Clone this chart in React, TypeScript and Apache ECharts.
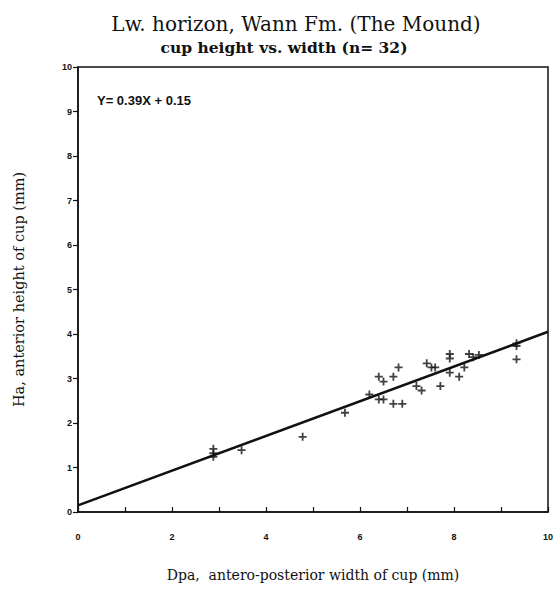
import React, { useEffect, useRef } from "react";
import * as echarts from "echarts";

// Dpa (antero-posterior width of cup, mm)
const widths = [
  2.88, 2.88, 2.88, 3.48, 4.78, 5.68, 6.2, 6.4, 6.5, 6.4, 6.5, 6.71, 6.82, 6.71,
  6.9, 7.2, 7.31, 7.42, 7.52, 7.6, 7.71, 7.91, 7.91, 7.91, 8.11, 8.22, 8.32, 8.41,
  8.53, 9.33, 9.33, 9.33,
];
// Ha (anterior height of cup, mm)
const heights = [
  1.42, 1.32, 1.24, 1.39, 1.69, 2.23, 2.64, 3.04, 2.93, 2.53, 2.53, 3.04, 3.25, 2.43,
  2.43, 2.83, 2.73, 3.34, 3.25, 3.25, 2.83, 3.55, 3.45, 3.13, 3.04, 3.25, 3.55, 3.48,
  3.53, 3.79, 3.73, 3.43,
];
// regression Y = slope * X + intercept
const slope = 0.39;
const intercept = 0.15;
const fitRange = [0, 10];
const axisTicks = { min: 0, max: 10, step: 1 };

const titleText = "Lw. horizon, Wann Fm. (The Mound)";
const subtitleText = "cup height vs. width (n= 32)";
const equationText = "Y= 0.39X + 0.15";
const xName = "Dpa,  antero-posterior width of cup (mm)";
const yName = "Ha, anterior height of cup (mm)";

const plusSymbol =
  "path://M-0.9,-4 L0.9,-4 L0.9,-0.9 L4,-0.9 L4,0.9 L0.9,0.9 L0.9,4 L-0.9,4 L-0.9,0.9 L-4,0.9 L-4,-0.9 L-0.9,-0.9 Z";

const serif = "'DejaVu Serif', 'Liberation Serif', serif";
const sans = "'Liberation Sans', Arial, sans-serif";

export default function App() {
  const ref = useRef<HTMLDivElement>(null);

  useEffect(() => {
    if (!ref.current) return;
    const chart = echarts.init(ref.current, undefined, { renderer: "svg" });
    const points = widths.map((w, i) => [w, heights[i]]);
    const fitLine = fitRange.map((x) => [x, slope * x + intercept]);

    chart.setOption({
      animation: false,
      backgroundColor: "#ffffff",
      grid: {
        left: 78,
        right: 9,
        top: 67,
        bottom: 78,
        show: true,
        borderColor: "#111",
        borderWidth: 1.5,
      },
      graphic: [
        {
          type: "text",
          x: 296,
          y: 24,
          style: {
            text: titleText,
            font: `20px ${serif}`,
            fill: "#111",
            align: "center",
            verticalAlign: "middle",
          },
        },
        {
          type: "text",
          x: 284,
          y: 47,
          style: {
            text: subtitleText,
            font: `bold 15.5px ${serif}`,
            fill: "#111",
            align: "center",
            verticalAlign: "middle",
          },
        },
        {
          type: "text",
          left: 97,
          top: 94,
          style: { text: equationText, font: `bold 13px ${sans}`, fill: "#111" },
        },
      ],
      xAxis: {
        type: "value",
        min: axisTicks.min,
        max: axisTicks.max,
        interval: axisTicks.step,
        name: xName,
        nameLocation: "middle",
        nameGap: 56,
        nameTextStyle: { fontFamily: serif, fontSize: 14, color: "#111" },
        axisLine: { lineStyle: { color: "#111", width: 1.5 } },
        axisTick: { inside: true, length: 5, lineStyle: { color: "#111", width: 1.2 } },
        axisLabel: {
          margin: 20,
          fontFamily: sans,
          fontWeight: "bold",
          fontSize: 9,
          color: "#111",
          formatter: (v: number) => (v % 2 === 0 ? String(v) : ""),
        },
        splitLine: { show: false },
      },
      yAxis: {
        type: "value",
        min: axisTicks.min,
        max: axisTicks.max,
        interval: axisTicks.step,
        name: yName,
        nameLocation: "middle",
        nameGap: 52,
        nameRotate: 90,
        nameTextStyle: { fontFamily: serif, fontSize: 14.5, color: "#111" },
        axisLine: { lineStyle: { color: "#111", width: 1.5 } },
        axisTick: { length: 5, lineStyle: { color: "#111", width: 1.2 } },
        axisLabel: {
          margin: 6,
          fontFamily: sans,
          fontWeight: "bold",
          fontSize: 9,
          color: "#111",
        },
        splitLine: { show: false },
      },
      series: [
        {
          type: "line",
          data: fitLine,
          symbol: "none",
          lineStyle: { color: "#111", width: 2.5 },
          z: 2,
        },
        {
          type: "scatter",
          data: points,
          symbol: plusSymbol,
          symbolSize: 8,
          itemStyle: { color: "#111" },
          z: 3,
        },
      ],
    });

    return () => chart.dispose();
  }, []);

  return (
    <div
      ref={ref}
      style={{ position: "fixed", left: 0, top: 0, width: 557, height: 590, background: "#fff" }}
    />
  );
}
